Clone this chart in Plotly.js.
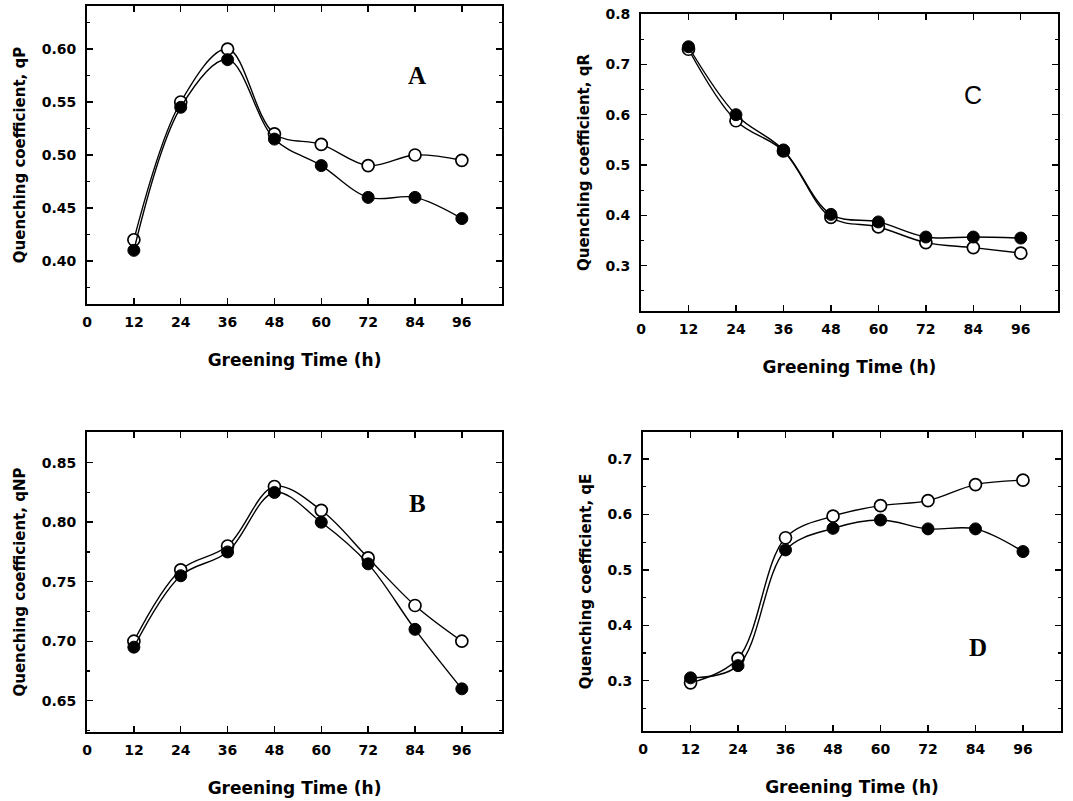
<!DOCTYPE html>
<html>
<head>
<meta charset="utf-8">
<script src="https://cdn.plot.ly/plotly-3.0.1.min.js"></script>
<style>html,body{margin:0;padding:0;background:#fff;}#chart{width:1073px;height:801px;}</style>
</head>
<body>
<div id="chart"></div>
<script>
// Greening time (h)
const hours = [12, 24, 36, 48, 60, 72, 84, 96];
const xTicks = [0, 12, 24, 36, 48, 60, 72, 84, 96];

// Panel A: qP
const qP_open   = [0.420, 0.550, 0.600, 0.520, 0.510, 0.490, 0.500, 0.495];
const qP_filled = [0.410, 0.545, 0.590, 0.515, 0.490, 0.460, 0.460, 0.440];
// Panel B: qNP
const qNP_open   = [0.700, 0.760, 0.780, 0.830, 0.810, 0.770, 0.730, 0.700];
const qNP_filled = [0.695, 0.755, 0.775, 0.825, 0.800, 0.765, 0.710, 0.660];
// Panel C: qR
const qR_open   = [0.730, 0.588, 0.528, 0.396, 0.377, 0.346, 0.336, 0.325];
const qR_filled = [0.735, 0.600, 0.530, 0.402, 0.387, 0.357, 0.357, 0.355];
// Panel D: qE
const qE_open   = [0.296, 0.340, 0.558, 0.597, 0.616, 0.625, 0.654, 0.662];
const qE_filled = [0.305, 0.327, 0.536, 0.575, 0.590, 0.574, 0.574, 0.533];

const yTicksA = [0.40, 0.45, 0.50, 0.55, 0.60];
const yTicksB = [0.65, 0.70, 0.75, 0.80, 0.85];
const yTicksC = [0.3, 0.4, 0.5, 0.6, 0.7, 0.8];
const yTicksD = [0.3, 0.4, 0.5, 0.6, 0.7];

const xTitle = 'Greening Time (h)';
const yTitles = ['Quenching coefficient, qP', 'Quenching coefficient, qNP',
                 'Quenching coefficient, qR', 'Quenching coefficient, qE'];
const panelLetters = ['A', 'B', 'C', 'D'];

const tickFont = {family: 'DejaVu Sans', size: 14, color: '#000', weight: 'bold'};
const titleFontX = {family: 'DejaVu Sans', size: 17, color: '#000', weight: 'bold'};
const titleFontY = {family: 'DejaVu Sans', size: 15, color: '#000', weight: 'bold'};

function pair(xa, ya, open, filled) {
  const base = {x: hours, xaxis: xa, yaxis: ya, type: 'scatter', mode: 'lines+markers',
    line: {shape: 'spline', smoothing: 1, color: '#000', width: 1.4}, hoverinfo: 'skip'};
  return [
    Object.assign({}, base, {y: open, marker: {symbol: 'circle', size: 12, color: '#fff', line: {color: '#000', width: 1.7}}}),
    Object.assign({}, base, {y: filled, marker: {symbol: 'circle', size: 12, color: '#000', line: {color: '#000', width: 1}}})
  ];
}

const data = [].concat(
  pair('x', 'y', qP_open, qP_filled),
  pair('x2', 'y2', qR_open, qR_filled),
  pair('x3', 'y3', qNP_open, qNP_filled),
  pair('x4', 'y4', qE_open, qE_filled)
);

function xax(domain, range, anchor) {
  return {domain: domain, range: range, anchor: anchor, tickvals: xTicks,
    ticks: 'inside', ticklen: 6, tickwidth: 1.4, tickcolor: '#000', mirror: 'ticks',
    showline: true, linewidth: 2, linecolor: '#000', showgrid: false, zeroline: false,
    tickfont: tickFont, ticklabelstandoff: 4,
    title: {text: xTitle, font: titleFontX, standoff: 25}};
}
function yax(domain, range, anchor, ticks, fmt, minorStep, title) {
  return {domain: domain, range: range, anchor: anchor, tickvals: ticks, tickformat: fmt,
    ticks: 'inside', ticklen: 6, tickwidth: 1.4, tickcolor: '#000', mirror: 'ticks',
    minor: {dtick: minorStep, tick0: 0, ticks: 'inside', ticklen: 3, tickwidth: 1.2, tickcolor: '#000', showgrid: false},
    showline: true, linewidth: 2, linecolor: '#000', showgrid: false, zeroline: false,
    tickfont: tickFont, ticklabelstandoff: 6,
    title: {text: title, font: titleFontY, standoff: 12}};
}

const W = 1073, H = 801;
function ann(text, px, py, family, size, weight) {
  return {text: text, x: px / W, y: 1 - py / H, xref: 'paper', yref: 'paper', showarrow: false,
    xanchor: 'center', yanchor: 'middle', font: {family: family, size: size, color: '#000', weight: weight}};
}

const layout = {
  width: W, height: H,
  margin: {l: 0, r: 0, t: 0, b: 0},
  paper_bgcolor: '#fff', plot_bgcolor: '#fff',
  showlegend: false,
  xaxis:  xax([0.0811, 0.4679], [0, 106.3], 'y'),
  yaxis:  yax([0.6205, 0.9925], [0.3594, 0.6406], 'x', yTicksA, '.2f', 0.025, yTitles[0]),
  xaxis2: xax([0.5974, 0.9860], [0, 105.4], 'y2'),
  yaxis2: yax([0.6117, 0.9825], [0.21, 0.80], 'x2', yTicksC, '.1f', 0.05, yTitles[2]),
  xaxis3: xax([0.0811, 0.4679], [0, 106.3], 'y3'),
  yaxis3: yax([0.0861, 0.4607], [0.6237, 0.8758], 'x3', yTicksB, '.2f', 0.025, yTitles[1]),
  xaxis4: xax([0.5993, 0.9888], [0, 105.6], 'y4'),
  yaxis4: yax([0.0874, 0.4607], [0.209, 0.749], 'x4', yTicksD, '.1f', 0.05, yTitles[3]),
  annotations: [
    ann(panelLetters[0], 417, 75, 'Liberation Serif', 25, 'bold'),
    ann(panelLetters[1], 417, 503, 'Liberation Serif', 25, 'bold'),
    ann(panelLetters[2], 973, 95, 'Liberation Sans', 25, 'normal'),
    ann(panelLetters[3], 978, 647, 'Liberation Serif', 25, 'bold')
  ]
};

Plotly.newPlot('chart', data, layout, {staticPlot: true, displayModeBar: false});
</script>
</body>
</html>
